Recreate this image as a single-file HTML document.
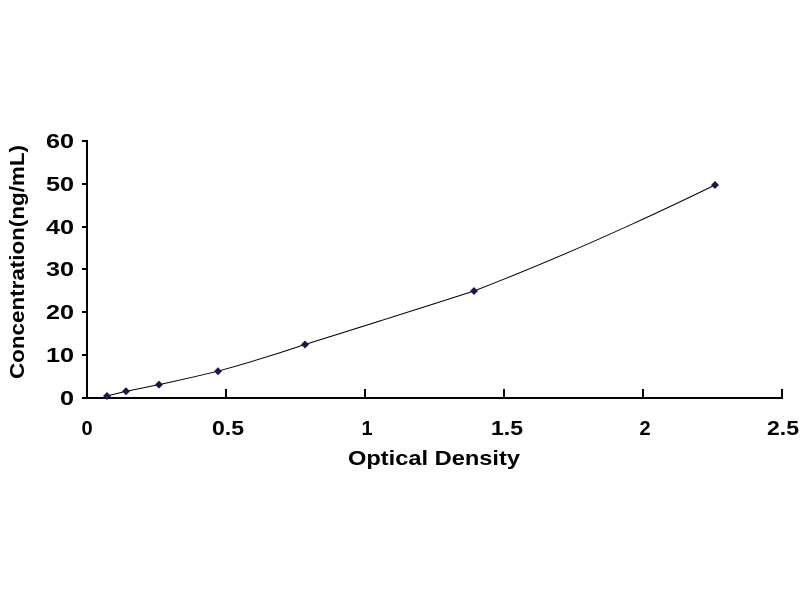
<!DOCTYPE html>
<html><head><style>body{margin:0;background:#fff}svg{display:block}</style></head><body>
<svg width="800" height="600" xmlns="http://www.w3.org/2000/svg" font-family="Liberation Sans, Arial, sans-serif" font-weight="bold">
<rect width="800" height="600" fill="#fff"/>
<g stroke="#000" stroke-width="2" fill="none">
<line x1="87" y1="140" x2="87" y2="398"/>
<line x1="86" y1="398" x2="783" y2="398"/>
<line x1="82" y1="141" x2="87" y2="141"/>
<line x1="82" y1="184" x2="87" y2="184"/>
<line x1="82" y1="227" x2="87" y2="227"/>
<line x1="82" y1="269" x2="87" y2="269"/>
<line x1="82" y1="312" x2="87" y2="312"/>
<line x1="82" y1="355" x2="87" y2="355"/>
<line x1="82" y1="398" x2="87" y2="398"/>
<line x1="226" y1="389" x2="226" y2="398"/>
<line x1="365" y1="389" x2="365" y2="398"/>
<line x1="504" y1="389" x2="504" y2="398"/>
<line x1="643" y1="389" x2="643" y2="398"/>
<line x1="782" y1="389" x2="782" y2="398"/>
</g>
<g font-size="20" text-anchor="end" fill="#000">
<text x="74" y="148" textLength="28" lengthAdjust="spacingAndGlyphs">60</text>
<text x="74" y="191" textLength="28" lengthAdjust="spacingAndGlyphs">50</text>
<text x="74" y="234" textLength="28" lengthAdjust="spacingAndGlyphs">40</text>
<text x="74" y="276" textLength="28" lengthAdjust="spacingAndGlyphs">30</text>
<text x="74" y="319" textLength="28" lengthAdjust="spacingAndGlyphs">20</text>
<text x="74" y="362" textLength="28" lengthAdjust="spacingAndGlyphs">10</text>
<text x="74" y="405" textLength="14" lengthAdjust="spacingAndGlyphs">0</text>
</g>
<g font-size="20" text-anchor="middle" fill="#000">
<text x="87" y="435">0</text>
<text x="228" y="435" textLength="32" lengthAdjust="spacingAndGlyphs">0.5</text>
<text x="367" y="435">1</text>
<text x="507" y="435" textLength="32" lengthAdjust="spacingAndGlyphs">1.5</text>
<text x="645" y="435">2</text>
<text x="783" y="435" textLength="32" lengthAdjust="spacingAndGlyphs">2.5</text>
</g>
<text x="434" y="465" font-size="20" text-anchor="middle" textLength="172" lengthAdjust="spacingAndGlyphs">Optical Density</text>
<text transform="translate(24,262) rotate(-90)" font-size="20" text-anchor="middle" textLength="234" lengthAdjust="spacingAndGlyphs">Concentration(ng/mL)</text>
<path fill="none" stroke="#000" stroke-width="1" d="M107,396 L126,391.3 Q142,388 159,384.6 Q190,378 218,371.2 Q262,359 305,344.5 Q390,318 474,291 Q590,246 715,185"/>
<g fill="#1a1a4a">
<path d="M107,392 l4,4 -4,4 -4,-4z"/>
<path d="M126,387.3 l4,4 -4,4 -4,-4z"/>
<path d="M159,380.6 l4,4 -4,4 -4,-4z"/>
<path d="M218,367.2 l4,4 -4,4 -4,-4z"/>
<path d="M305,340.5 l4,4 -4,4 -4,-4z"/>
<path d="M474,287 l4,4 -4,4 -4,-4z"/>
<path d="M715,181 l4,4 -4,4 -4,-4z"/>
</g>
</svg>
</body></html>
